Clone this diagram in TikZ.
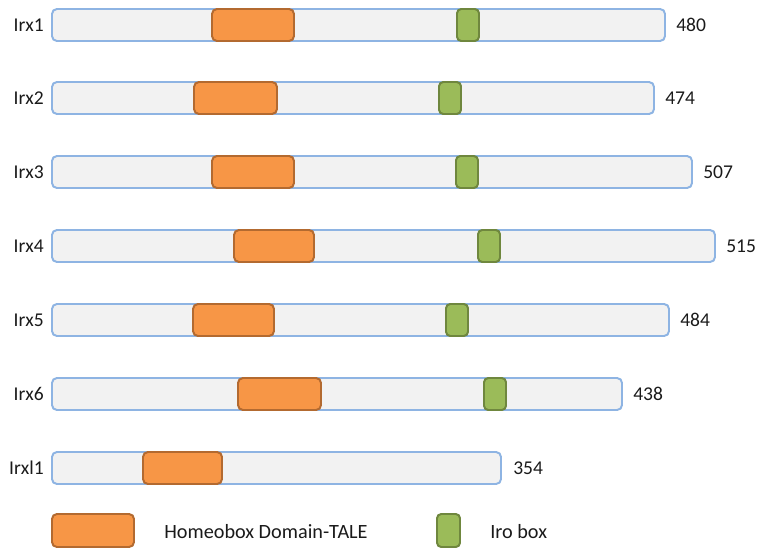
\documentclass[tikz,border=0pt]{standalone}
\usepackage{fontspec}
\setmainfont{Carlito}
\usetikzlibrary{positioning}
\definecolor{cbar}{HTML}{F2F2F2}
\definecolor{cbarline}{HTML}{8EB4E3}
\definecolor{corange}{HTML}{F79646}
\definecolor{corangeline}{HTML}{B36A30}
\definecolor{cgreen}{HTML}{9BBB59}
\definecolor{cgreenline}{HTML}{6F873E}
\definecolor{ctext}{HTML}{1A1A1A}
\tikzset{
  every picture/.style={x=0.025cm, y=-0.025cm, font=\fontsize{13.9}{16}\selectfont, text=ctext},
  protein/.style={draw=cbarline, fill=cbar, line width=1.4pt, rounded corners=3.5pt},
  homeo/.style={draw=corangeline, fill=corange, line width=1.4pt, rounded corners=3.5pt},
  iro/.style={draw=cgreenline, fill=cgreen, line width=1.4pt, rounded corners=3pt},
  gene/.style={inner sep=0pt, anchor=east},
  aalen/.style={inner sep=0pt, anchor=west},
  legend/.style={inner sep=0pt, anchor=west, font=\fontsize{14.4}{16}\selectfont},
}

\begin{document}
\begin{tikzpicture}
  \useasboundingbox (0,0) rectangle (760,551);
  % one row per protein: label / length / centre / end / homeobox / iro box
  \foreach \n/\lab/\len/\y/\xe/\hs/\he/\gs in {
      1/Irx1/480/25/665/212/294/457,
      2/Irx2/474/98/654/194/277/439,
      3/Irx3/507/172/692/212/294/456,
      4/Irx4/515/246/715/234/314/478,
      5/Irx5/484/320/669/193/274/446,
      6/Irx6/438/394/622/238/321/484} {
    \draw[protein] (52,\y-16) rectangle (\xe,\y+16);
    \draw[homeo] (\hs,\y-16) rectangle (\he,\y+16);
    \draw[iro] (\gs,\y-16) rectangle (\gs+22,\y+16);
    \node[gene] (name\n) at (44,\y) {\lab};
    \node[aalen] (len\n) at (\xe+11,\y) {\len};
  }
  % Irxl1 has no Iro box
  \draw[protein] (52,452) rectangle (501,484);
  \draw[homeo] (143,452) rectangle (222,484);
  \node[gene] (name7) at (44,468) {Irxl1};
  \node[aalen] (len7) at (513,468) {354};
  % legend
  \draw[homeo] (52,514) rectangle (134,547);
  \node[legend] (keyhomeo) at (164,532) {Homeobox Domain-TALE};
  \draw[iro] (437,514) rectangle (460,547);
  \node[legend] (keyiro) at (490,532) {Iro box};
\end{tikzpicture}
\end{document}
